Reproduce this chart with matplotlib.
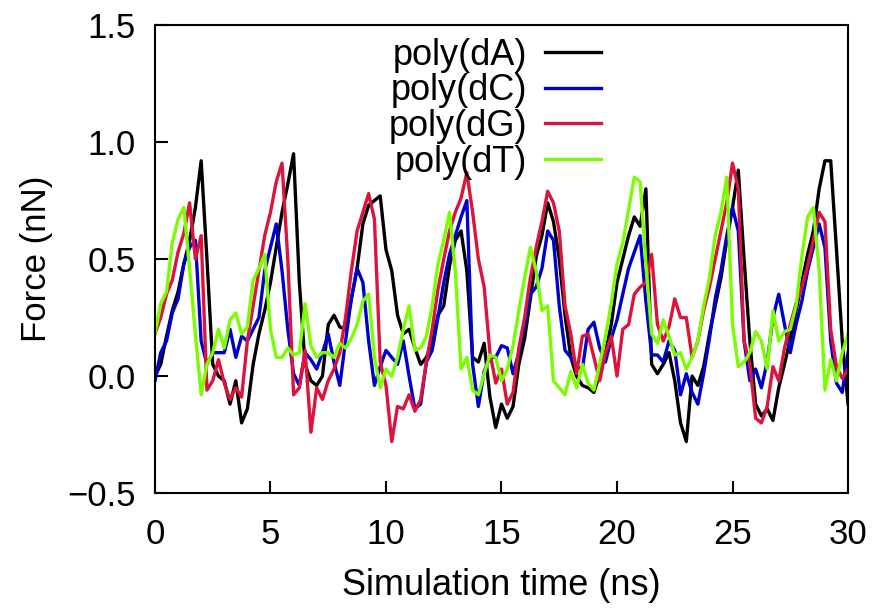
import numpy as np
import matplotlib
matplotlib.use('Agg')
import matplotlib.pyplot as plt

plt.rcParams['font.family'] = ['Liberation Sans', 'DejaVu Sans']

# simulation time, one sample every 0.25 ns
time_ns = np.arange(0, 30.01, 0.25)

poly_dA = [0.00, 0.05, 0.17, 0.28, 0.36, 0.48, 0.58, 0.72, 0.92, 0.50,
           0.05, 0.00, -0.02, -0.12, -0.02, -0.20, -0.14, 0.05, 0.18, 0.28,
           0.40, 0.55, 0.70, 0.82, 0.95, 0.40, 0.05, -0.02, -0.04, 0.00,
           0.22, 0.26, 0.21, 0.20, 0.33, 0.46, 0.65, 0.73, 0.75, 0.77,
           0.54, 0.45, 0.26, 0.18, 0.20, 0.12, 0.05, 0.08, 0.15, 0.26,
           0.30, 0.47, 0.58, 0.62, 0.45, 0.08, 0.06, 0.14, -0.09, -0.22,
           -0.12, -0.18, -0.13, 0.05, 0.16, 0.33, 0.51, 0.60, 0.74, 0.66,
           0.50, 0.26, 0.08, 0.00, -0.04, -0.05, -0.07, 0.01, 0.10, 0.22,
           0.40, 0.50, 0.60, 0.68, 0.64, 0.80, 0.05, 0.01, 0.05, 0.10,
           -0.02, -0.20, -0.28, 0.00, -0.04, 0.04, 0.18, 0.30, 0.42, 0.58,
           0.72, 0.88, 0.50, 0.15, -0.12, -0.17, -0.14, -0.19, -0.05, 0.05,
           0.16, 0.28, 0.40, 0.52, 0.62, 0.80, 0.92, 0.92, 0.54, 0.15,
           -0.12]

poly_dC = [-0.02, 0.10, 0.15, 0.27, 0.33, 0.48, 0.55, 0.58, 0.15, 0.05,
           0.10, 0.10, 0.10, 0.20, 0.08, 0.17, 0.15, 0.20, 0.25, 0.45,
           0.55, 0.65, 0.45, 0.20, 0.01, -0.04, 0.10, 0.07, 0.03, 0.10,
           0.18, 0.06, -0.04, 0.15, 0.33, 0.46, 0.40, 0.15, -0.04, 0.04,
           0.11, 0.08, 0.05, 0.15, 0.00, -0.14, -0.12, 0.06, 0.11, 0.25,
           0.40, 0.52, 0.60, 0.68, 0.75, 0.05, -0.13, 0.02, 0.08, 0.08,
           0.13, 0.12, 0.01, 0.10, 0.22, 0.35, 0.38, 0.46, 0.62, 0.58,
           0.30, 0.11, 0.08, 0.04, 0.03, 0.20, 0.23, 0.12, 0.06, 0.16,
           0.24, 0.35, 0.46, 0.53, 0.60, 0.32, 0.09, 0.09, 0.06, 0.15,
           0.11, -0.08, 0.01, -0.07, -0.12, 0.01, 0.16, 0.33, 0.45, 0.60,
           0.72, 0.62, 0.15, -0.02, 0.03, -0.05, 0.06, 0.25, 0.35, 0.22,
           0.10, 0.22, 0.32, 0.45, 0.55, 0.65, 0.55, 0.15, -0.03, -0.07,
           0.10]

poly_dG = [0.18, 0.25, 0.35, 0.41, 0.53, 0.61, 0.74, 0.50, 0.60, -0.06,
           -0.02, 0.07, -0.03, -0.10, -0.05, -0.09, 0.15, 0.30, 0.45, 0.60,
           0.70, 0.83, 0.91, 0.50, -0.08, -0.05, 0.11, -0.24, -0.05, -0.10,
           -0.02, 0.03, 0.10, 0.25, 0.45, 0.62, 0.70, 0.78, 0.67, 0.06,
           -0.04, -0.28, -0.13, -0.14, -0.08, -0.15, -0.10, 0.06, 0.20, 0.37,
           0.50, 0.62, 0.70, 0.76, 0.87, 0.70, 0.50, 0.38, 0.10, -0.03,
           0.03, -0.12, -0.07, 0.12, 0.25, 0.42, 0.55, 0.66, 0.79, 0.74,
           0.62, 0.30, 0.18, 0.01, 0.17, 0.18, 0.08, -0.02, 0.10, 0.17,
           0.00, 0.20, 0.22, 0.35, 0.38, 0.40, 0.52, 0.22, 0.15, 0.21,
           0.33, 0.25, 0.25, 0.08, 0.15, 0.28, 0.38, 0.50, 0.62, 0.74,
           0.91, 0.80, 0.15, 0.05, -0.18, -0.20, -0.13, 0.04, -0.02, 0.12,
           0.22, 0.31, 0.38, 0.47, 0.58, 0.70, 0.66, 0.20, 0.04, -0.01,
           0.03]

poly_dT = [0.18, 0.31, 0.36, 0.57, 0.67, 0.72, 0.46, 0.18, -0.08, 0.05,
           0.10, 0.20, 0.12, 0.24, 0.27, 0.18, 0.21, 0.41, 0.46, 0.52,
           0.20, 0.08, 0.08, 0.12, 0.09, 0.10, 0.31, 0.13, 0.08, 0.10,
           0.10, 0.08, 0.14, 0.12, 0.16, 0.22, 0.32, 0.35, 0.08, -0.05,
           0.03, 0.00, 0.08, 0.20, 0.30, 0.11, 0.12, 0.17, 0.30, 0.48,
           0.58, 0.70, 0.45, 0.03, 0.08, -0.06, -0.08, 0.01, 0.09, 0.08,
           -0.02, 0.03, 0.13, 0.28, 0.42, 0.55, 0.45, 0.28, 0.30, -0.02,
           -0.05, -0.08, 0.02, -0.05, 0.05, -0.03, -0.06, 0.05, 0.17, 0.31,
           0.48, 0.57, 0.71, 0.85, 0.83, 0.48, 0.18, 0.14, 0.24, 0.17,
           0.09, 0.10, 0.03, 0.08, 0.15, 0.30, 0.42, 0.60, 0.70, 0.85,
           0.22, 0.04, 0.06, 0.10, 0.19, 0.15, 0.03, 0.28, 0.15, 0.19,
           0.20, 0.30, 0.51, 0.68, 0.72, 0.45, -0.06, 0.07, -0.02, 0.10,
           0.18]

labels = ['poly(dA)', 'poly(dC)', 'poly(dG)', 'poly(dT)']
colors = ['#000000', '#0000CC', '#DC143C', '#7CFC00']

fig = plt.figure(figsize=(8.73, 6.11), dpi=100)
ax = fig.add_axes([0.1775, 0.193, 0.7939, 0.766])

for y, lab, c in zip([poly_dA, poly_dC, poly_dG, poly_dT], labels, colors):
    ax.plot(time_ns, y, color=c, lw=2.4, label=lab)

ax.set_xlim(0, 30)
ax.set_ylim(-0.5, 1.5)
ax.set_xticks([0, 5, 10, 15, 20, 25, 30])
ax.set_yticks([-0.5, 0.0, 0.5, 1.0, 1.5])
ax.set_yticklabels(['\u22120.5', '0.0', '0.5', '1.0', '1.5'])
ax.tick_params(direction='in', length=9, width=1.5, labelsize=25,
               top=False, right=False)
ax.tick_params(axis='x', pad=18)
ax.tick_params(axis='y', pad=14)
for s in ax.spines.values():
    s.set_linewidth(1.5)

ax.set_xlabel('Simulation time (ns)', fontsize=26, labelpad=12)
ax.set_ylabel('Force (nN)', fontsize=25, labelpad=10)

ax.legend(loc='upper right', bbox_to_anchor=(0.665, 1.004), frameon=False,
          markerfirst=False, fontsize=26, handlelength=1.55, handletextpad=0.5,
          labelspacing=0.02, borderaxespad=0.0)

fig.savefig('out.png', dpi=100)
